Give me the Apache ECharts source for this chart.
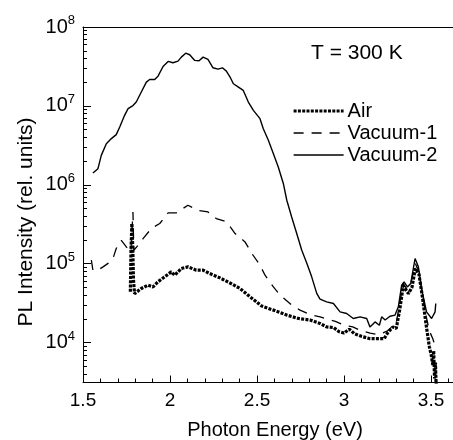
<!DOCTYPE html>
<html><head><meta charset="utf-8">
<script src="https://cdn.jsdelivr.net/npm/echarts@6/dist/echarts.min.js"></script>
<style>html,body{margin:0;padding:0;background:#fff}#c{width:453px;height:440px}</style>
</head><body><div id="c"></div>
<script>
const seriesNames = ['Air', 'Vacuum-1', 'Vacuum-2'];
const xMajorTicks = [1.5, 2, 2.5, 3, 3.5];
const xMinorTicks = [1.6,1.7,1.8,1.9,2.1,2.2,2.3,2.4,2.6,2.7,2.8,2.9,3.1,3.2,3.3,3.4,3.6];
const yMajorTicks = [1e4, 1e5, 1e6, 1e7, 1e8];
const yMinorTicks = [4e3,5e3,6e3,7e3,8e3,9e3,2e4,3e4,4e4,5e4,6e4,7e4,8e4,9e4,2e5,3e5,4e5,5e5,6e5,7e5,8e5,9e5,
  2e6,3e6,4e6,5e6,6e6,7e6,8e6,9e6,2e7,3e7,4e7,5e7,6e7,7e7,8e7,9e7];

const airE = [1.772,1.776,1.781,1.786,1.790,1.796,1.806,1.835,1.874,1.902,1.931,1.969,2.007,2.027,2.065,2.103,2.151,2.19,2.228,2.287,2.345,2.402,2.46,2.527,2.594,2.671,2.738,2.805,2.862,2.90,2.94,2.97,3.00,3.03,3.06,3.10,3.15,3.20,3.23,3.25,3.28,3.30,3.32,3.34,3.36,3.37,3.39,3.41,3.43,3.45,3.47,3.49,3.50,3.51,3.515,3.52,3.525,3.53];
const airI = [4.4e4,1.58e5,3.23e5,1.58e5,6.3e4,4.17e4,4.2e4,4.85e4,5.35e4,5.08e4,5.89e4,6.81e4,7.87e4,7.14e4,8.69e4,9.12e4,8.28e4,8.28e4,7.5e4,6.61e4,5.69e4,4.85e4,3.8e4,2.9e4,2.58e4,2.23e4,2.02e4,1.93e4,1.75e4,1.58e4,1.55e4,1.38e4,1.32e4,1.48e4,1.29e4,1.2e4,1.12e4,1.12e4,1.12e4,1.32e4,1.58e4,1.51e4,2.63e4,5.25e4,4.47e4,4.17e4,5.01e4,8.71e4,7.41e4,3.8e4,1.78e4,8.9e3,7.1e3,5.2e3,7.9e3,3.5e3,5.6e3,2.5e3];

const vac1E = [1.548,1.557,1.586,1.615,1.644,1.672,1.691,1.72,1.749,1.775,1.787,1.792,1.825,1.845,1.893,1.941,1.989,2.036,2.103,2.161,2.218,2.266,2.326,2.374,2.431,2.47,2.517,2.546,2.594,2.632,2.699,2.747,2.814,2.862,2.90,2.95,3.0,3.05,3.1,3.15,3.2,3.25,3.3,3.32,3.34,3.36,3.38,3.41,3.43,3.45,3.47,3.49,3.51,3.52];
const vac1I = [1.11e5,8.28e4,8.28e4,9.12e4,1.01e5,1.16e5,1.56e5,1.98e5,1.63e5,1.41e5,4.53e5,1.48e5,1.8e5,2.08e5,2.79e5,3.23e5,4.4e5,4.4e5,5.51e5,4.75e5,4.53e5,3.73e5,3.39e5,2.41e5,1.89e5,1.35e5,9.57e4,7.14e4,5.08e4,3.99e4,2.99e4,2.58e4,2.23e4,2.12e4,2.0e4,1.86e4,1.66e4,1.58e4,1.41e4,1.32e4,1.26e4,1.41e4,1.78e4,3.16e4,5.62e4,4.79e4,5.25e4,1.0e5,7.94e4,4.17e4,2.24e4,1.41e4,1.12e4,9.5e3];

const vac2E = [1.557,1.586,1.605,1.634,1.663,1.691,1.711,1.739,1.759,1.787,1.806,1.835,1.864,1.883,1.912,1.931,1.96,1.989,2.017,2.046,2.065,2.09,2.113,2.142,2.167,2.19,2.218,2.247,2.276,2.301,2.324,2.345,2.364,2.393,2.421,2.45,2.479,2.517,2.536,2.565,2.594,2.622,2.651,2.671,2.699,2.728,2.757,2.786,2.814,2.843,2.862,2.9,2.939,2.977,3.015,3.053,3.092,3.13,3.149,3.178,3.203,3.216,3.236,3.264,3.293,3.312,3.331,3.345,3.364,3.383,3.408,3.427,3.447,3.474,3.503,3.523,3.527];
const vac2I = [1.41e6,1.6e6,2.36e6,3.31e6,3.85e6,4.32e6,5.4e6,7.59e6,9.23e6,1.01e7,1.12e7,1.5e7,2.0e7,2.16e7,2.16e7,2.38e7,3.16e7,3.66e7,3.52e7,3.69e7,4.15e7,4.66e7,4.45e7,3.77e7,3.73e7,4.15e7,3.88e7,3.04e7,2.92e7,3.04e7,2.76e7,2.32e7,1.91e7,1.73e7,1.57e7,1.12e7,8.77e6,6.89e6,5.14e6,3.66e6,2.48e6,1.68e6,1.04e6,6.37e5,3.91e5,2.41e5,1.48e5,1.01e5,6.81e4,4.2e4,3.55e4,3.28e4,3.13e4,2.45e4,2.34e4,2.02e4,2.12e4,2.02e4,1.58e4,1.83e4,1.66e4,2.12e4,1.93e4,2.16e4,2.23e4,2.84e4,5.35e4,5.89e4,5.08e4,5.61e4,1.16e5,9.12e4,4.62e4,2.45e4,2.02e4,2.45e4,3.13e4];

function pairs(xs, ys) { return xs.map((x, i) => [x, ys[i]]); }

const FONT = '"Liberation Sans", Arial, sans-serif';
const XMIN = 1.5, XMAX = 3.626, YMIN = 3120, YMAX = 1e8;
const NOSYM = {color: 'rgba(0,0,0,0)', borderColor: 'rgba(0,0,0,0)', borderWidth: 0};
const lineStyles = [
  {color: '#000', width: 3.2, type: [3, 1.3], cap: 'butt'},
  {color: '#000', width: 1.3, type: [10, 8]},
  {color: '#000', width: 1.4, type: 'solid'}
];

const chart = echarts.init(document.getElementById('c'), null, {renderer: 'canvas'});
chart.setOption({
  animation: false,
  backgroundColor: '#fff',
  textStyle: {fontFamily: FONT, color: '#000'},
  grid: {left: 83, right: 0, top: 27, bottom: 57.5, containLabel: false},
  title: {text: 'T = 300 K', left: 306, top: 38,
    textStyle: {fontFamily: FONT, fontSize: 21, fontWeight: 'normal', color: '#000'}},
  legend: {
    orient: 'vertical', left: 287, top: 96, itemWidth: 50, itemHeight: 14, itemGap: 2,
    data: seriesNames.map((n, i) => ({name: n, lineStyle: lineStyles[i]})),
    itemStyle: NOSYM,
    textStyle: {fontFamily: FONT, fontSize: 20, lineHeight: 20, color: '#000', padding: [0,0,0,-1]}
  },
  graphic: [
    {type: 'text', x: 26, y: 222, rotation: Math.PI / 2,
      style: {text: 'PL Intensity (rel. units)', font: '21px ' + FONT, fill: '#000', align: 'center', verticalAlign: 'middle'}},
    {type: 'text', x: 275, y: 430,
      style: {text: 'Photon Energy (eV)', font: '20px ' + FONT, fill: '#000', align: 'center', verticalAlign: 'middle'}}
  ],
  xAxis: [
    {type: 'value', min: XMIN, max: XMAX, position: 'bottom',
      axisLine: {show: true, lineStyle: {color: '#000', width: 1}},
      axisTick: {show: true, inside: true, length: 7, customValues: xMajorTicks, lineStyle: {color: '#000'}},
      axisLabel: {show: true, customValues: xMajorTicks, margin: 9, fontSize: 19, fontFamily: FONT, color: '#000'},
      splitLine: {show: false}},
    {type: 'value', min: XMIN, max: XMAX, position: 'bottom',
      axisLine: {show: false},
      axisTick: {show: true, inside: true, length: 4, customValues: xMinorTicks, lineStyle: {color: '#000'}},
      axisLabel: {show: false}, splitLine: {show: false}},
    {type: 'value', min: XMIN, max: XMAX, position: 'top',
      axisLine: {show: true, lineStyle: {color: '#000', width: 1}},
      axisTick: {show: false}, axisLabel: {show: false}, splitLine: {show: false}}
  ],
  yAxis: [
    {type: 'log', logBase: 10, min: YMIN, max: YMAX, position: 'left',
      axisLine: {show: true, lineStyle: {color: '#000', width: 1}},
      axisTick: {show: true, inside: true, length: 8, customValues: yMajorTicks, lineStyle: {color: '#000'}},
      axisLabel: {show: true, customValues: yMajorTicks, margin: 8,
        formatter: v => '{a|10}{b|' + Math.round(Math.log10(v)) + '}',
        rich: {a: {fontSize: 20, fontFamily: FONT, color: '#000', lineHeight: 26},
               b: {fontSize: 13, fontFamily: FONT, color: '#000', verticalAlign: 'top', lineHeight: 13}}},
      splitLine: {show: false}},
    {type: 'log', logBase: 10, min: YMIN, max: YMAX, position: 'left',
      axisLine: {show: false},
      axisTick: {show: true, inside: true, length: 4, customValues: yMinorTicks, lineStyle: {color: '#000'}},
      axisLabel: {show: false}, splitLine: {show: false}}
  ],
  series: [
    {name: 'Air', type: 'line', data: pairs(airE, airI), showSymbol: false, symbol: 'none',
      lineStyle: lineStyles[0], itemStyle: {color: '#000'}},
    {name: 'Vacuum-1', type: 'line', data: pairs(vac1E, vac1I), showSymbol: false, symbol: 'none',
      lineStyle: lineStyles[1], itemStyle: {color: '#000'}},
    {name: 'Vacuum-2', type: 'line', data: pairs(vac2E, vac2I), showSymbol: false, symbol: 'none',
      lineStyle: lineStyles[2], itemStyle: {color: '#000'}}
  ]
});
</script></body></html>
